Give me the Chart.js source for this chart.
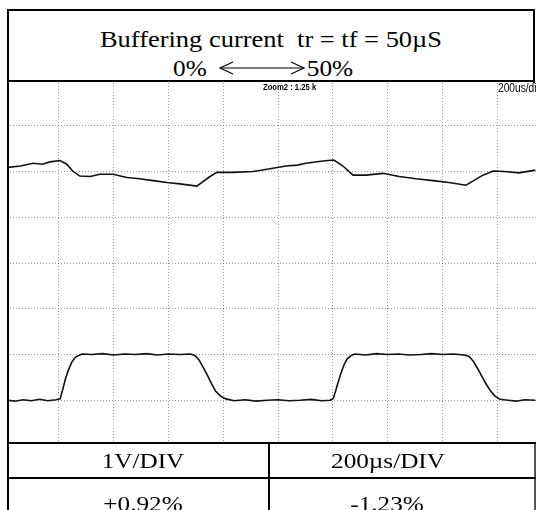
<!DOCTYPE html>
<html>
<head>
<meta charset="utf-8">
<script src="https://cdn.jsdelivr.net/npm/chart.js@4"></script>
<style>
  html, body { margin: 0; padding: 0; background: #fff; }
  body { width: 536px; height: 510px; position: relative; overflow: hidden;
         font-family: "Liberation Serif", "Times New Roman", serif; color: #000; }
  .linea { position: absolute; background: #000; }
  .texto { position: absolute; white-space: pre; line-height: 29px; text-align: center; }
  #scope { position: absolute; left: 9px; top: 82px; width: 527px; height: 360px; overflow: hidden; background: #fff; }
  #grafico { position: absolute; left: -5px; top: -2px; }
  .rotulo { position: absolute; white-space: pre; font-family: "Liberation Sans", Arial, sans-serif;
            color: #000; transform-origin: left top; }
</style>
</head>
<body>
<!-- caja del titulo -->
<div class="texto" style="left:9px; width:524px; top:25px; font-size:23px; transform:scaleX(1.15);">Buffering current  tr = tf = 50µS</div>
<div class="texto" style="left:160px; width:60px; top:54px; font-size:23px; transform:scaleX(1.1);">0%</div>
<div class="texto" style="left:295px; width:70px; top:54px; font-size:23px; transform:scaleX(1.1);">50%</div>
<svg style="position:absolute; left:218px; top:59px;" width="90" height="18">
  <g stroke="#000" stroke-width="1.2" fill="none">
    <line x1="2" y1="9" x2="86" y2="9"/>
    <polyline points="15,3 2,9 15,15"/>
    <polyline points="73,3 86,9 73,15"/>
  </g>
</svg>

<!-- pantalla del osciloscopio -->
<div id="scope">
  <canvas id="grafico" width="548" height="366" style="width:548px;height:366px;"></canvas>
  <div class="rotulo" style="left:254px; top:0px; font-size:9px; font-weight:bold; transform:scaleX(0.85);">Zoom2 : 1.25 k</div>
  <div class="rotulo" style="left:489px; top:-1px; font-size:12px; transform:scaleX(0.85);">200us/div</div>
</div>

<!-- lineas del marco -->
<div class="linea" style="left:7px; top:9px; width:2px; height:510px;"></div>
<div class="linea" style="left:533px; top:9px; width:2px; height:74px;"></div>
<div class="linea" style="left:534px; top:442px; width:2px; height:70px; background:#555;"></div>
<div class="linea" style="left:7px; top:9px; width:528px; height:2px;"></div>
<div class="linea" style="left:7px; top:80px; width:528px; height:2px;"></div>
<div class="linea" style="left:7px; top:442px; width:529px; height:2px;"></div>
<div class="linea" style="left:7px; top:477px; width:529px; height:2px;"></div>
<div class="linea" style="left:268px; top:443px; width:2px; height:70px;"></div>

<!-- tabla inferior -->
<div class="texto" style="left:43px; width:200px; top:447px; font-size:21px; transform:scaleX(1.2);">1V/DIV</div>
<div class="texto" style="left:288px; width:200px; top:447px; font-size:21px; transform:scaleX(1.2);">200µs/DIV</div>
<div class="texto" style="left:43px; width:200px; top:490px; font-size:21px; transform:scaleX(1.2);">+0.92%</div>
<div class="texto" style="left:287px; width:200px; top:490px; font-size:21px; transform:scaleX(1.2);">-1.23%</div>

<script>
// Tiempo en microsegundos (200 us/div) y tension en voltios (1 V/div)
const tiempoSuperior = [14, 60, 106, 140, 168, 204, 229, 252, 277, 314, 350, 398, 449, 496, 544, 595, 642, 704, 726, 752, 777, 836, 909, 971, 1029, 1070, 1102, 1164, 1204, 1237, 1274, 1321, 1383, 1442, 1504, 1566, 1624, 1686, 1708, 1748, 1785, 1825, 1880, 1939];
const tensionSuperior = [6.09, 6.12, 6.18, 6.16, 6.21, 6.24, 6.16, 6.0, 5.90, 5.89, 5.94, 5.94, 5.87, 5.84, 5.80, 5.76, 5.73, 5.68, 5.78, 5.89, 5.98, 5.98, 6.0, 6.06, 6.12, 6.14, 6.18, 6.23, 6.25, 6.12, 5.92, 5.92, 5.96, 5.89, 5.84, 5.80, 5.76, 5.70, 5.78, 5.92, 6.01, 6.0, 5.97, 6.03];

const tiempoInferior = [14, 40, 70, 100, 130, 160, 190, 205, 215, 225, 235, 248, 262, 285, 320, 360, 400, 440, 480, 520, 560, 600, 640, 680, 697, 712, 727, 742, 757, 772, 790, 810, 840, 880, 920, 960, 1000, 1040, 1080, 1120, 1160, 1190, 1202, 1215, 1228, 1240, 1252, 1265, 1280, 1320, 1360, 1400, 1440, 1480, 1520, 1560, 1600, 1640, 1680, 1697, 1712, 1728, 1744, 1760, 1776, 1792, 1810, 1840, 1870, 1900, 1939];
const tensionInferior = [1.0, 0.98, 1.01, 0.99, 1.02, 0.99, 1.01, 1.03, 1.25, 1.48, 1.66, 1.84, 1.95, 2.01, 2.0, 2.02, 1.99, 2.01, 2.0, 2.02, 1.99, 2.01, 2.0, 2.01, 1.98, 1.88, 1.72, 1.55, 1.37, 1.2, 1.09, 1.03, 0.99, 1.01, 0.98, 1.0, 1.01, 0.99, 1.0, 1.02, 0.99, 1.0, 1.04, 1.3, 1.56, 1.76, 1.9, 1.97, 2.01, 1.99, 2.02, 2.0, 2.01, 1.99, 2.0, 2.02, 2.0, 2.01, 1.99, 1.96, 1.86, 1.7, 1.52, 1.35, 1.2, 1.09, 1.02, 1.0, 0.98, 1.01, 1.0];

// Divisiones de la reticula
const divisionesX = [0, 200, 400, 600, 800, 1000, 1200, 1400, 1600, 1800, 2000];
const divisionesY = [0, 1, 2, 3, 4, 5, 6, 7, 8];

const aPuntos = (ts, vs) => ts.map((t, i) => ({ x: t, y: vs[i] }));

const colorReticula = "rgba(0,0,0,0.4)";

const ctx = document.getElementById("grafico").getContext("2d");
new Chart(ctx, {
    type: 'line',
    data: {
        datasets: [
            {
                label: "CH1",
                data: aPuntos(tiempoSuperior, tensionSuperior),
                borderColor: "#111",
                borderWidth: 1.6,
                pointRadius: 0,
                tension: 0
            },
            {
                label: "CH2",
                data: aPuntos(tiempoInferior, tensionInferior),
                borderColor: "#111",
                borderWidth: 1.6,
                pointRadius: 0,
                tension: 0
            }
        ]
    },
    options: {
        responsive: false,
        animation: false,
        layout: { padding: 0 },
        plugins: {
            legend: { display: false },
            tooltip: { enabled: false }
        },
        scales: {
            x: {
                type: 'linear',
                min: 0,
                max: 2000,
                afterBuildTicks: (eje) => { eje.ticks = divisionesX.map(v => ({ value: v })); },
                ticks: { display: false },
                grid: { color: colorReticula, lineWidth: 1, drawTicks: false },
                border: { display: false, dash: [1, 2] }
            },
            y: {
                type: 'linear',
                min: 0,
                max: 8,
                afterBuildTicks: (eje) => { eje.ticks = divisionesY.map(v => ({ value: v })); },
                ticks: { display: false },
                grid: { color: colorReticula, lineWidth: 1, drawTicks: false },
                border: { display: false, dash: [1, 2] }
            }
        }
    }
});
</script>
</body>
</html>
